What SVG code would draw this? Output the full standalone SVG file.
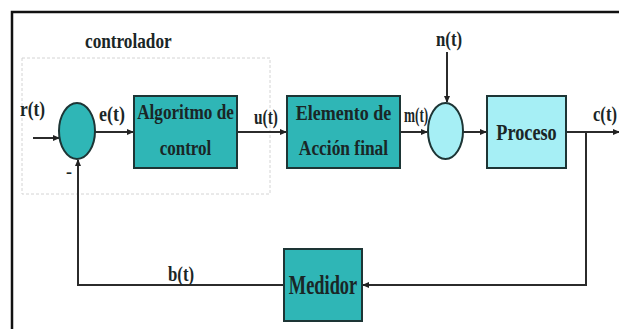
<svg xmlns="http://www.w3.org/2000/svg" width="619" height="329" viewBox="0 0 619 329">
<defs>
<marker id="ah" markerWidth="7" markerHeight="6" refX="6" refY="3" orient="auto" markerUnits="userSpaceOnUse">
<path d="M0,0 L7,3 L0,6 Z" fill="#222"/>
</marker>
<style>
.t{font-family:"Liberation Serif","Times New Roman",serif;font-weight:bold;fill:#1a2626}
.m{text-anchor:middle}
.blk{fill:#2fb6b6;stroke:#1d3535;stroke-width:2}
.lt{fill:#a6eff5;stroke:#1d3535;stroke-width:2}
.ln{fill:none;stroke:#2b2b2b;stroke-width:2}
</style>
</defs>
<rect width="619" height="329" fill="#fff"/>
<path d="M12,329 V12 H619" fill="none" stroke="#111" stroke-width="2.5"/>
<rect x="22" y="58" width="248" height="136" fill="none" stroke="#d4d4d4" stroke-width="1" stroke-dasharray="3 2"/>
<text class="t" font-size="21" transform="translate(85,48) scale(0.82,1)">controlador</text>

<g id="connectors">
<line class="ln" x1="33" y1="138" x2="59" y2="138" marker-end="url(#ah)"/>
<line class="ln" x1="95" y1="132" x2="133" y2="132" marker-end="url(#ah)"/>
<line class="ln" x1="237" y1="132" x2="286" y2="132" marker-end="url(#ah)"/>
<line class="ln" x1="400" y1="132" x2="427" y2="132" marker-end="url(#ah)"/>
<line class="ln" x1="447" y1="52" x2="447" y2="102" marker-end="url(#ah)"/>
<line class="ln" x1="463" y1="132" x2="486" y2="132" marker-end="url(#ah)"/>
<line class="ln" x1="566" y1="132" x2="619" y2="132" marker-end="url(#ah)"/>
<polyline class="ln" points="586,132 586,285 363,285" marker-end="url(#ah)"/>
<polyline class="ln" points="284,285 78,285 78,160" marker-end="url(#ah)"/>
<text class="t" font-size="20" transform="translate(20,116) scale(0.87,1)">r(t)</text>
<text class="t" font-size="20" transform="translate(99,121) scale(0.9,1)">e(t)</text>
<text class="t" font-size="20" transform="translate(254,124) scale(0.77,1)">u(t)</text>
<text class="t" font-size="20" transform="translate(404,122) scale(0.66,1)">m(t)</text>
<text class="t" font-size="20" transform="translate(436,46) scale(0.84,1)">n(t)</text>
<text class="t" font-size="20" transform="translate(593,121) scale(0.83,1)">c(t)</text>
<text class="t" font-size="20" transform="translate(168,281) scale(0.84,1)">b(t)</text>
<text class="t" font-size="18" x="66" y="178">-</text>
</g>

<g id="sum1">
<ellipse cx="77" cy="131" rx="18" ry="28" fill="#2fb6b6" stroke="#1d3535" stroke-width="2"/>
</g>
<g id="algoritmo">
<rect class="blk" x="134" y="96" width="103" height="72"/>
<text class="t m" font-size="22" transform="translate(185.5,119) scale(0.78,1)">Algoritmo de</text>
<text class="t m" font-size="22" transform="translate(185.5,155) scale(0.774,1)">control</text>
</g>
<g id="elemento">
<rect class="blk" x="287" y="96" width="113" height="72"/>
<text class="t m" font-size="22" transform="translate(343.5,120) scale(0.82,1)">Elemento de</text>
<text class="t m" font-size="22" transform="translate(343.5,155) scale(0.79,1)">Acción final</text>
</g>
<g id="sum2">
<ellipse cx="445.5" cy="131" rx="17.5" ry="28" fill="#a6eff5" stroke="#1d3535" stroke-width="2"/>
</g>
<g id="proceso">
<rect class="lt" x="487" y="96" width="79" height="72"/>
<text class="t m" font-size="24" transform="translate(526.5,140) scale(0.76,1)">Proceso</text>
</g>
<g id="medidor">
<rect class="blk" x="284" y="249" width="78" height="72"/>
<text class="t m" font-size="27" transform="translate(323,294) scale(0.68,1)">Medidor</text>
</g>
</svg>
